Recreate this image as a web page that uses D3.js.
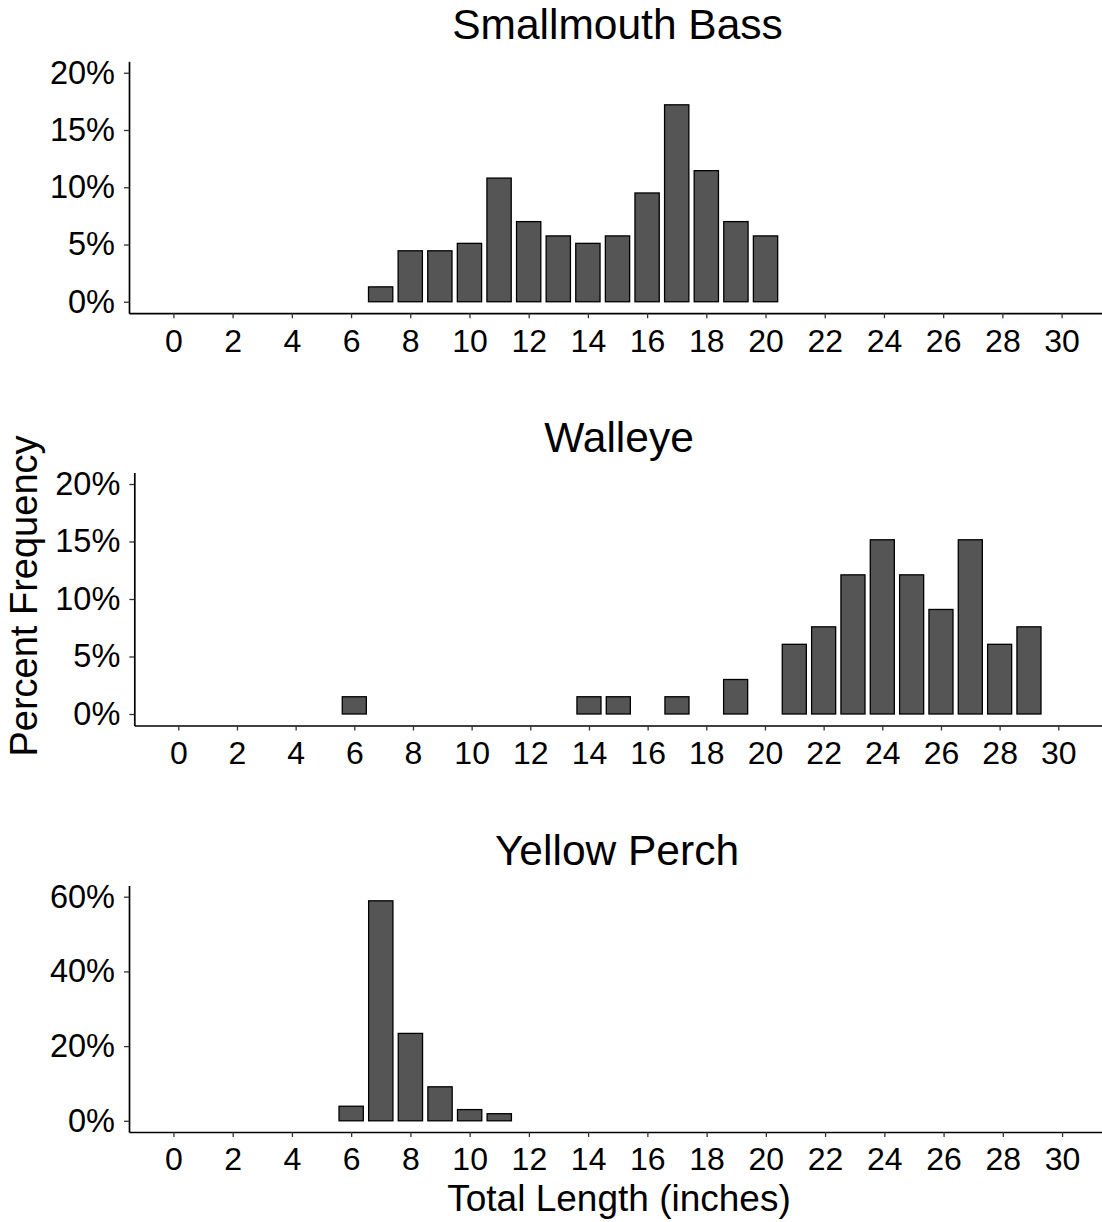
<!DOCTYPE html>
<html>
<head>
<meta charset="utf-8">
<script src="https://cdn.jsdelivr.net/npm/d3@7"></script>
<style>
  html, body { margin: 0; padding: 0; background: #ffffff; }
  svg { display: block; font-family: "Liberation Sans", Arial, sans-serif; }
</style>
</head>
<body>
<svg id="chart" width="1102" height="1222"></svg>
<script>
// ---- Data ----
const xTicks = [0, 2, 4, 6, 8, 10, 12, 14, 16, 18, 20, 22, 24, 26, 28, 30];

const smallmouthLengths = [7, 8, 9, 10, 11, 12, 13, 14, 15, 16, 17, 18, 19, 20];
const smallmouthPercent = [1.3, 4.45, 4.45, 5.1, 10.8, 7.0, 5.75, 5.1, 5.75, 9.5, 17.2, 11.45, 7.0, 5.75];

const walleyeLengths = [6, 14, 15, 17, 19, 21, 22, 23, 24, 25, 26, 27, 28, 29];
const walleyePercent = [1.5, 1.5, 1.5, 1.5, 3.0, 6.06, 7.58, 12.1, 15.15, 12.1, 9.09, 15.15, 6.06, 7.58];

const perchLengths = [6, 7, 8, 9, 10, 11];
const perchPercent = [3.9, 58.9, 23.4, 9.1, 3.0, 1.9];

const smallmouthYTicks = [0, 5, 10, 15, 20];
const walleyeYTicks = [0, 5, 10, 15, 20];
const perchYTicks = [0, 20, 40, 60];

const panelTitles = ["Smallmouth Bass", "Walleye", "Yellow Perch"];
const xAxisTitle = "Total Length (inches)";
const yAxisTitle = "Percent Frequency";

// ---- Layout ----
const svg = d3.select("#chart");
const panels = [
  { title: panelTitles[0], xs: smallmouthLengths, ys: smallmouthPercent, yTicks: smallmouthYTicks,
    yMax: 20, left: 129, right: 1106, top: 61.3, bottom: 313.2, titleX: 617.5, titleY: 39, xPad: 11 },
  { title: panelTitles[1], xs: walleyeLengths, ys: walleyePercent, yTicks: walleyeYTicks,
    yMax: 20, left: 134.3, right: 1102.3, top: 472.5, bottom: 725.5, titleX: 619, titleY: 452, xPad: 11 },
  { title: panelTitles[2], xs: perchLengths, ys: perchPercent, yTicks: perchYTicks,
    yMax: 60, left: 129, right: 1106.5, top: 885.5, bottom: 1132, titleX: 617, titleY: 865, xPad: 10 }
];

panels.forEach(p => {
  const pad = p.yMax * 0.05;
  const x = d3.scaleLinear().domain([-1.5, 31.5]).range([p.left, p.right]);
  const y = d3.scaleLinear().domain([-pad, p.yMax + pad]).range([p.bottom, p.top]);
  const step = x(1) - x(0);
  const bw = step * 0.82;

  const g = svg.append("g");

  // bars
  g.selectAll("rect.bar")
    .data(p.xs.map((v, i) => ({ x: v, y: p.ys[i] })))
    .join("rect")
    .attr("class", "bar")
    .attr("x", d => x(d.x) - bw / 2)
    .attr("width", bw)
    .attr("y", d => y(d.y))
    .attr("height", d => y(0) - y(d.y))
    .attr("fill", "#555555")
    .attr("stroke", "#000")
    .attr("stroke-width", 1.3);

  // x axis
  const xAxis = d3.axisBottom(x).tickValues(xTicks).tickSize(5).tickSizeOuter(0).tickPadding(p.xPad)
    .tickFormat(d3.format("d"));
  const gx = g.append("g").attr("transform", `translate(0,${p.bottom})`).call(xAxis);
  gx.select(".domain").attr("stroke", "#000").attr("stroke-width", 1.7);
  gx.selectAll(".tick line").attr("stroke", "#333").attr("stroke-width", 1.3);
  gx.selectAll(".tick text").attr("font-size", 32).attr("fill", "#000")
    .attr("font-family", "Liberation Sans, Arial, sans-serif");

  // y axis
  const yAxis = d3.axisLeft(y).tickValues(p.yTicks).tickSize(5).tickSizeOuter(0).tickPadding(9)
    .tickFormat(d => d + "%");
  const gy = g.append("g").attr("transform", `translate(${p.left},0)`).call(yAxis);
  gy.select(".domain").attr("stroke", "#000").attr("stroke-width", 1.7);
  gy.selectAll(".tick line").attr("stroke", "#333").attr("stroke-width", 1.3);
  gy.selectAll(".tick text").attr("font-size", 32.5).attr("fill", "#000")
    .attr("font-family", "Liberation Sans, Arial, sans-serif");

  // title
  g.append("text")
    .attr("x", p.titleX).attr("y", p.titleY)
    .attr("text-anchor", "middle")
    .attr("font-size", 42.5).attr("fill", "#000")
    .text(p.title);
});

// axis titles
svg.append("text")
  .attr("x", 619).attr("y", 1211)
  .attr("text-anchor", "middle")
  .attr("font-size", 37).attr("fill", "#000")
  .text(xAxisTitle);

svg.append("text")
  .attr("transform", "translate(37,596) rotate(-90)")
  .attr("text-anchor", "middle")
  .attr("font-size", 38).attr("fill", "#000")
  .text(yAxisTitle);
</script>
</body>
</html>
